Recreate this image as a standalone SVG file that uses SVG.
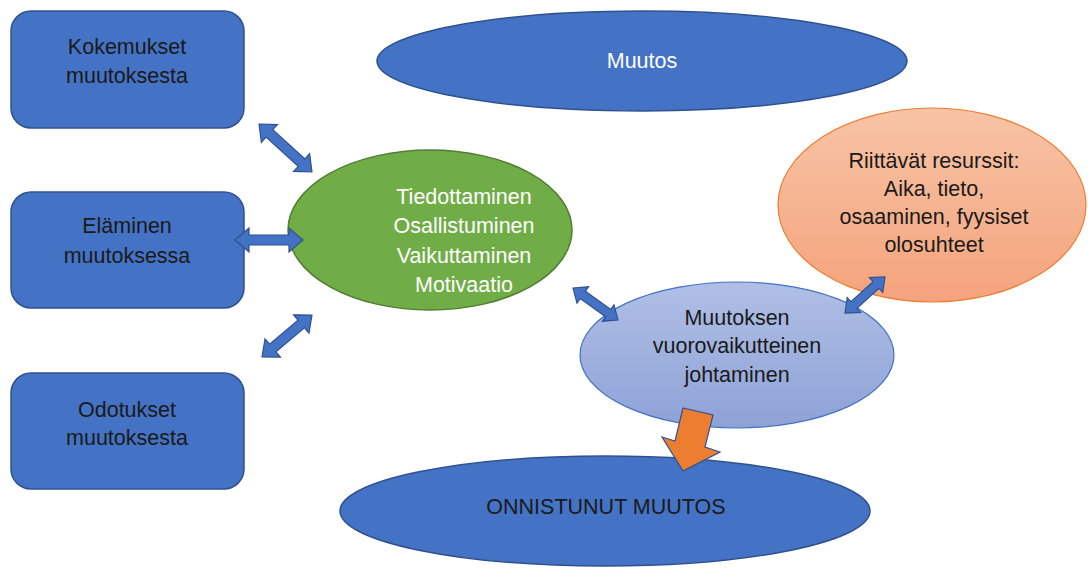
<svg xmlns="http://www.w3.org/2000/svg" width="1088" height="569" viewBox="0 0 1088 569">
<defs>
<style>
.box{fill:#4472C4;stroke:#2F528F;stroke-width:1.5}
.blue{fill:#4472C4;stroke:#2F528F;stroke-width:1.5}
.t{font-family:"Liberation Sans",Arial,sans-serif;font-size:21.5px;text-anchor:middle}
.dark{fill:#1a1a1a}
.white{fill:#ffffff}
.arr{fill:#4472C4;stroke:#2F528F;stroke-width:1.2}
</style>
<linearGradient id="gOr" x1="0" y1="0" x2="0" y2="1">
<stop offset="0" stop-color="#F7C4A6"/>
<stop offset="1" stop-color="#F4A37C"/>
</linearGradient>
<linearGradient id="gLb" x1="0" y1="0" x2="0" y2="1">
<stop offset="0" stop-color="#B0BFE6"/>
<stop offset="1" stop-color="#8EA2D6"/>
</linearGradient>
</defs>
<rect width="1088" height="569" fill="#ffffff"/>
<g id="kokemukset">
<rect class="box" x="11" y="11" width="233" height="117" rx="20"/>
<text class="t dark" x="127" y="54">Kokemukset</text>
<text class="t dark" x="127" y="83">muutoksesta</text>
</g>
<g id="elaminen">
<rect class="box" x="11" y="192" width="233" height="116" rx="20"/>
<text class="t dark" x="127" y="233">Eläminen</text>
<text class="t dark" x="127" y="263">muutoksessa</text>
</g>
<g id="odotukset">
<rect class="box" x="11" y="373" width="233" height="116" rx="20"/>
<text class="t dark" x="127" y="417">Odotukset</text>
<text class="t dark" x="127" y="445">muutoksesta</text>
</g>
<g id="muutos">
<ellipse class="blue" cx="642" cy="61" rx="265" ry="50"/>
<text class="t white" x="642" y="68">Muutos</text>
</g>
<g id="keskus">
<ellipse cx="430" cy="230" rx="142" ry="80" fill="#70AD47" stroke="#507E32" stroke-width="1.5"/>
<text class="t white" x="464" y="204">Tiedottaminen</text>
<text class="t white" x="464" y="233">Osallistuminen</text>
<text class="t white" x="464" y="263">Vaikuttaminen</text>
<text class="t white" x="464" y="292">Motivaatio</text>
</g>
<g id="resurssit">
<ellipse cx="932" cy="205" rx="154" ry="97" fill="url(#gOr)" stroke="#ED7D31" stroke-width="1.2"/>
<text class="t dark" x="934" y="168">Riittävät resurssit:</text>
<text class="t dark" x="934" y="196">Aika, tieto,</text>
<text class="t dark" x="934" y="224">osaaminen, fyysiset</text>
<text class="t dark" x="934" y="252">olosuhteet</text>
</g>
<g id="johtaminen">
<ellipse cx="737" cy="355" rx="157" ry="73" fill="url(#gLb)" stroke="#4472C4" stroke-width="1.2"/>
<text class="t dark" x="737" y="325">Muutoksen</text>
<text class="t dark" x="737" y="353">vuorovaikutteinen</text>
<text class="t dark" x="737" y="382">johtaminen</text>
</g>
<g id="onnistunut">
<ellipse class="blue" cx="605" cy="511" rx="265" ry="55"/>
<text class="t dark" x="606" y="514">ONNISTUNUT MUUTOS</text>
</g>
<g id="connectors">
<path class="arr" transform="translate(285.5,148) rotate(42.2)" d="M-35.7 0 L-21.7 -12 L-21.7 -5 L21.7 -5 L21.7 -12 L35.7 0 L21.7 12 L21.7 5 L-21.7 5 L-21.7 12 Z"/>
<path class="arr" transform="translate(269,240)" d="M-34 0 L-20 -12 L-20 -5 L20 -5 L20 -12 L34 0 L20 12 L20 5 L-20 5 L-20 12 Z"/>
<path class="arr" transform="translate(287,336) rotate(-40)" d="M-32.6 0 L-18.6 -12 L-18.6 -5 L18.6 -5 L18.6 -12 L32.6 0 L18.6 12 L18.6 5 L-18.6 5 L-18.6 12 Z"/>
<path class="arr" transform="translate(595.5,304) rotate(35.4)" d="M-27.6 0 L-15.6 -10 L-15.6 -4.5 L15.6 -4.5 L15.6 -10 L27.6 0 L15.6 10 L15.6 4.5 L-15.6 4.5 L-15.6 10 Z"/>
<path class="arr" transform="translate(865,295) rotate(-42)" d="M-26.9 0 L-14.9 -10 L-14.9 -4.5 L14.9 -4.5 L14.9 -10 L26.9 0 L14.9 10 L14.9 4.5 L-14.9 4.5 L-14.9 10 Z"/>
<path d="M683 408 L713 415 L705 447 L720 452 L683 471 L662 437 L675 441 Z" fill="#ED7D31" stroke="#2F528F" stroke-width="1.2"/>
</g>
</svg>
